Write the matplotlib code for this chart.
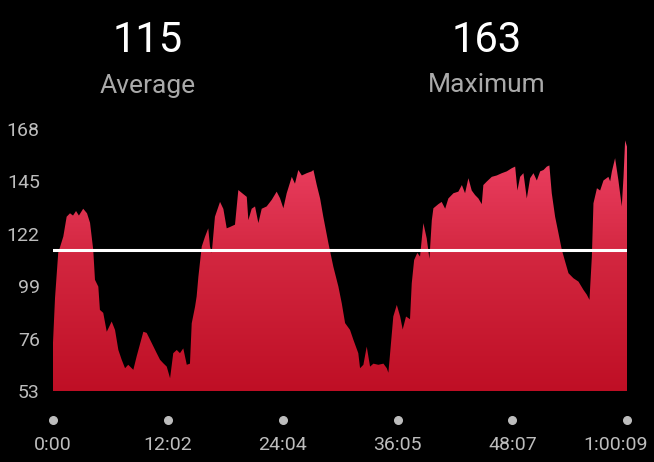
import numpy as np
import matplotlib.pyplot as plt
from matplotlib.colors import LinearSegmentedColormap
from matplotlib.transforms import ScaledTranslation, blended_transform_factory

plt.rcParams['font.family'] = ['Roboto', 'DejaVu Sans']

# Herzfrequenz-Verlauf (Zeit in Sekunden, bpm)
zeit = [0, 13, 33, 65, 86, 107, 126, 145, 163, 190, 214, 233, 253, 264, 285, 295,
        316, 338, 369, 390, 411, 432, 453, 473, 505, 526, 568, 589, 621, 652, 673,
        693, 715, 736, 756, 778, 798, 819, 841, 861, 872, 893, 903, 914, 935, 956,
        976, 987, 998, 1018, 1050, 1071, 1092, 1113, 1144, 1165, 1186, 1218, 1228,
        1249, 1270, 1291, 1312, 1343, 1375, 1406, 1427, 1448, 1469, 1501, 1521,
        1542, 1564, 1595, 1626, 1637, 1658, 1679, 1699, 1731, 1762, 1794, 1815,
        1836, 1867, 1888, 1919, 1930, 1951, 1972, 1993, 2014, 2045, 2077, 2098,
        2108, 2119, 2139, 2161, 2182, 2198, 2219, 2244, 2255, 2270, 2290, 2307,
        2328, 2349, 2366, 2381, 2391, 2422, 2443, 2465, 2485, 2517, 2548, 2570,
        2590, 2611, 2632, 2653, 2674, 2695, 2705, 2726, 2758, 2789, 2821, 2852,
        2884, 2905, 2919, 2936, 2957, 2978, 2999, 3020, 3041, 3062, 3083, 3104,
        3120, 3135, 3156, 3177, 3198, 3219, 3240, 3271, 3303, 3334, 3355, 3372,
        3387, 3397, 3419, 3439, 3460, 3491, 3502, 3513, 3533, 3554, 3575, 3586,
        3596, 3609]
puls = [74, 94, 113.6, 120.8, 129.5, 131, 130, 132, 130, 133, 131, 126.8, 115,
        101.8, 98.8, 88.6, 87.3, 79, 83.5, 79.8, 71, 66.7, 63, 64.5, 62.3, 68.2,
        79, 78.5, 74, 69.6, 66.7, 65.2, 63.7, 58.6, 69.6, 71, 69.6, 71.7, 64.5,
        65, 82.7, 90, 94.5, 103.2, 116.4, 120.8, 124.4, 116.4, 113.6, 129.5, 136,
        132.9, 124.4, 125, 126, 141.2, 140, 138.2, 128, 133, 134, 126.7, 133, 134,
        136.9, 140.5, 137.6, 133.2, 139.8, 147, 144, 150, 147.6, 148.6, 149.4,
        150, 143.4, 137.5, 129.5, 117.9, 107.6, 98.8, 91.5, 82.8, 79.8, 75.5,
        69.6, 63, 64.5, 72.5, 63.7, 65, 64.5, 65, 63, 61, 69.6, 85.7, 90.8, 85.7,
        80, 85.7, 84.5, 100.3, 110.5, 113.6, 112, 126.7, 120, 111, 127.9, 133.2,
        135, 136, 133, 137.5, 139.8, 140.5, 143.4, 139.8, 146.4, 141, 139, 137.5,
        135, 143.4, 144.9, 147, 147.6, 148.6, 149.4, 150.8, 151.5, 141, 147,
        148.6, 137.5, 146.4, 148.6, 145.4, 149.4, 150, 151.5, 152, 139.8, 129.5,
        122.3, 115, 109.8, 104.7, 102.5, 101, 97.4, 95.3, 93, 112, 135.4, 142, 141,
        145.4, 147, 145, 149.4, 155.2, 145.4, 134, 147, 163, 160]

durchschnitt = 115
maximum = 163
y_ticks = [53, 76, 99, 122, 145, 168]
dauer = 3609
x_ticks = [i * dauer / 5 for i in range(6)]
x_labels = ["0:00", "12:02", "24:04", "36:05", "48:07", "1:00:09"]

fig = plt.figure(figsize=(6.54, 4.62), dpi=100, facecolor='black')
ax = fig.add_axes([0.081, 0.1537, 0.878, 0.5671], facecolor='black')

# Flaeche mit Farbverlauf
poly = ax.fill_between(zeit, puls, 53, color='none', lw=0)
cmap = LinearSegmentedColormap.from_list('hr', ['#bf0f25', '#d2263f', '#f2466a'])
grad = np.linspace(0, 1, 256).reshape(-1, 1)
img = ax.imshow(grad, cmap=cmap, origin='lower', aspect='auto',
                extent=[0, dauer, 53, 168], zorder=1)
img.set_clip_path(poly.get_paths()[0], transform=ax.transData)

ax.axhline(durchschnitt, color='white', lw=2.2, zorder=3)

ax.set_xlim(0, dauer)
ax.set_ylim(53, 168)
for s in ax.spines.values():
    s.set_visible(False)

ax.set_yticks(y_ticks)
ax.set_yticklabels([str(v) for v in y_ticks])
ax.tick_params(axis='y', length=0, pad=9.5, labelsize=14, labelcolor='#bdbdbd')

ax.set_xticks(x_ticks)
ax.set_xticklabels(x_labels)
ax.tick_params(axis='x', length=0, pad=32.5, labelsize=14, labelcolor='#bdbdbd')
last = ax.get_xticklabels()[-1]
last.set_transform(last.get_transform() + ScaledTranslation(-0.12, 0, fig.dpi_scale_trans))

trans = blended_transform_factory(ax.transData, ax.transAxes)
ax.scatter(x_ticks, [-0.111] * 6, s=30, color='#bdbdbd', transform=trans,
           clip_on=False, zorder=4)

# Kennzahlen oben
fig.text(148 / 654, 1 - 40 / 462, str(durchschnitt), color='white', fontsize=30,
         ha='center', va='center')
fig.text(148 / 654, 1 - 85.5 / 462, "Average", color='#aaaaaa', fontsize=19,
         ha='center', va='center')
fig.text(487 / 654, 1 - 40 / 462, str(maximum), color='white', fontsize=30,
         ha='center', va='center')
fig.text(487 / 654, 1 - 85.5 / 462, "Maximum", color='#aaaaaa', fontsize=19,
         ha='center', va='center')

fig.savefig('out.png', dpi=100, facecolor='black')
